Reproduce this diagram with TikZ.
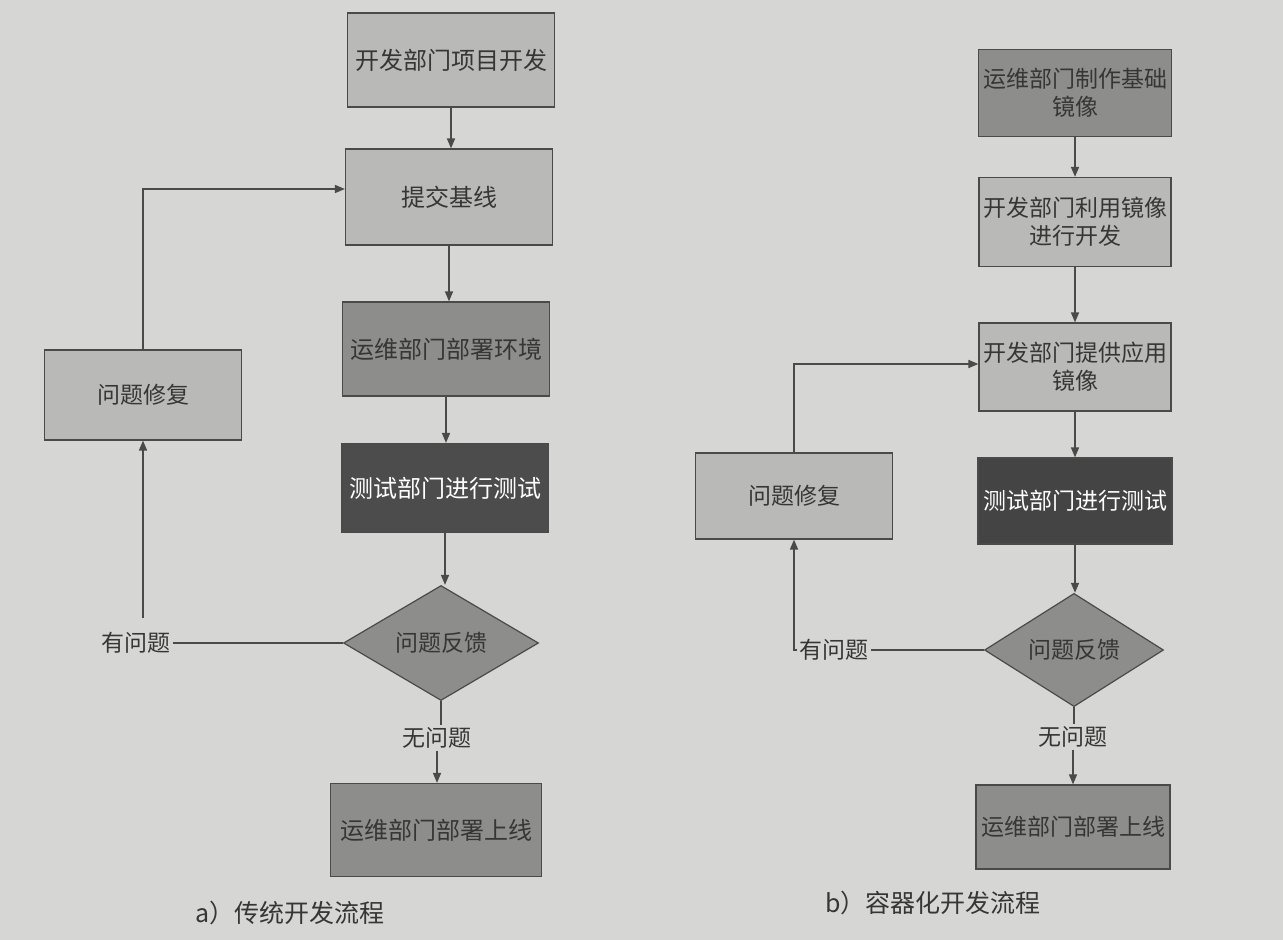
\documentclass[tikz,border=0pt]{standalone}
\usepackage{fontspec}
\newfontfamily\cjk{Noto Sans CJK SC}
\usetikzlibrary{shapes.geometric,arrows.meta}
\definecolor{paper}{HTML}{D6D6D4}
\definecolor{lightbox}{HTML}{B9B9B7}
\definecolor{midbox}{HTML}{8D8D8C}
\definecolor{darkbox}{HTML}{4C4C4C}
\definecolor{darkerbox}{HTML}{444444}
\definecolor{ink}{HTML}{363636}
\definecolor{edgec}{HTML}{4A4A4A}
\begin{document}
\begin{tikzpicture}[x=0.5pt,y=-0.5pt,
  box/.style={rectangle, draw=edgec, line width=0.6pt, inner sep=1pt, align=center,
    font=\cjk\fontsize{11.5}{14}\selectfont, text=ink},
  lightb/.style={box, fill=lightbox},
  midb/.style={box, fill=midbox},
  darkb/.style={box, fill=darkbox, text=white},
  bigtext/.style={font=\cjk\fontsize{12}{14}\selectfont},
  decision/.style={diamond, draw=edgec, line width=0.6pt, fill=midbox, inner sep=0pt,
    font=\cjk\fontsize{11.5}{14}\selectfont, text=ink},
  lbl/.style={inner sep=1pt, font=\cjk\fontsize{11.5}{14}\selectfont, text=ink},
  captext/.style={inner sep=1pt, font=\cjk\fontsize{12.5}{15}\selectfont, text=ink},
  link/.style={draw=edgec, line width=0.75pt},
  arr/.style={link, -{Triangle[length=5pt,width=4pt]}}
]
\useasboundingbox (0,0) rectangle (1283,940);
\fill[paper] (0,0) rectangle (1283,940);

% ---------- a) traditional ----------
\node[lightb, bigtext, minimum width=103.5pt, minimum height=47pt] (a1) at (451,60) {开发部门项目开发};
\node[lightb, bigtext, minimum width=103.5pt, minimum height=48pt] (a2) at (449,197) {提交基线};
\node[midb, bigtext, minimum width=103.5pt, minimum height=47pt] (a3) at (446,349) {运维部门部署环境};
\node[darkb, bigtext, minimum width=103.5pt, minimum height=44.5pt] (a4) at (445,488) {测试部门进行测试};
\node[decision, minimum width=97.5pt, minimum height=57.5pt] (d1) at (441,643) {问题反馈};
\node[lbl] (yes1) at (136,643) {有问题};
\node[lbl] (no1) at (437,738) {无问题};
\node[midb, bigtext, minimum width=105.5pt, minimum height=46.5pt] (a5) at (436,830) {运维部门部署上线};
\node[lightb, minimum width=98.5pt, minimum height=45pt] (fix1) at (143,395) {问题修复};
\node[captext] (capa) at (290,913) {a）传统开发流程};

\draw[arr] (a1.south) -- (a1.south |- a2.north);
\draw[arr] (a2.south) -- (a2.south |- a3.north);
\draw[arr] (a3.south) -- (a3.south |- a4.north);
\draw[arr] (a4.south) -- (a4.south |- d1.north);
\draw[link] (d1.west) -- (yes1.east);
\draw[arr] ([yshift=6pt]yes1.north -| fix1.south) -- (fix1.south);
\draw[arr] (fix1.north) |- ([yshift=4pt]a2.west);
\draw[link] (d1.south) -- (d1.south |- no1.north);
\draw[arr] (no1.south) -- (no1.south |- a5.north);

% ---------- b) container ----------
\node[midb, minimum width=96.5pt, minimum height=43.5pt] (b1) at (1075,93) {运维部门制作基础\\镜像};
\node[lightb, minimum width=96pt, minimum height=44.5pt] (b2) at (1075,222) {开发部门利用镜像\\进行开发};
\node[lightb, minimum width=96pt, minimum height=44pt] (b3) at (1075,367) {开发部门提供应用\\镜像};
\node[darkb, fill=darkerbox, minimum width=97pt, minimum height=43pt] (b4) at (1075,501) {测试部门进行测试};
\node[decision, minimum width=89.5pt, minimum height=55pt] (d2) at (1074,650) {问题反馈};
\node[lbl] (yes2) at (834,650) {有问题};
\node[lbl] (no2) at (1073,737) {无问题};
\node[midb, minimum width=97pt, minimum height=42pt] (b5) at (1073,827) {运维部门部署上线};
\node[lightb, minimum width=98.5pt, minimum height=43pt] (fix2) at (794,496) {问题修复};
\node[captext] (capb) at (933,903) {b）容器化开发流程};

\draw[arr] (b1.south) -- (b1.south |- b2.north);
\draw[arr] (b2.south) -- (b2.south |- b3.north);
\draw[arr] (b3.south) -- (b3.south |- b4.north);
\draw[arr] (b4.south) -- (b4.south |- d2.north);
\draw[link] (d2.west) -- (yes2.east);
\draw[arr] (yes2.west) -| (fix2.south);
\draw[arr] (fix2.north) |- ([yshift=1.5pt]b3.west);
\draw[link] (d2.south) -- (d2.south |- no2.north);
\draw[arr] (no2.south) -- (no2.south |- b5.north);
\end{tikzpicture}
\end{document}
